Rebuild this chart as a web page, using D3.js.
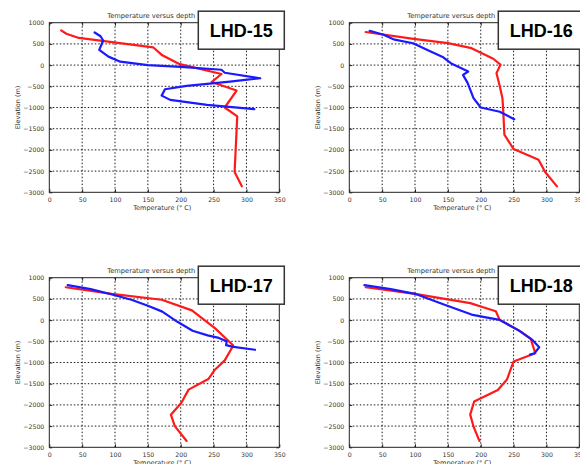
<!DOCTYPE html>
<html><head><meta charset="utf-8">
<script src="https://cdn.jsdelivr.net/npm/d3@7"></script>
<style>body{margin:0;background:#fff} svg{display:block}</style>
</head><body>
<svg id="chart" width="580" height="464"></svg>
<script>
const wells = ["LHD-15", "LHD-16", "LHD-17", "LHD-18"];
const xTicks = [0, 50, 100, 150, 200, 250, 300, 350];
const yTicks = [1000, 500, 0, -500, -1000, -1500, -2000, -2500, -3000];

// [temperature °C, elevation m]
const lhd15Red = [[18,820],[26,740],[45,640],[158,420],[172,230],[197,30],[262,-210],[247,-400],[285,-600],[267,-1000],[286,-1210],[282,-2520],[293,-2860]];
const lhd15Blue = [[69,770],[78,680],[82,580],[76,360],[90,200],[108,80],[150,0],[200,-40],[262,-110],[267,-180],[321,-310],[275,-390],[209,-490],[176,-570],[171,-720],[184,-820],[240,-940],[312,-1040]];
const lhd16Red = [[25,780],[95,625],[150,520],[186,400],[201,285],[219,150],[230,10],[224,-190],[229,-500],[233,-780],[234,-1000],[236,-1640],[250,-1980],[288,-2230],[298,-2520],[316,-2860]];
const lhd16Blue = [[31,810],[52,715],[69,600],[97,515],[123,325],[143,185],[156,30],[181,-150],[173,-230],[180,-420],[189,-780],[200,-1000],[229,-1100],[251,-1275]];
const lhd17Red = [[25,775],[95,620],[171,480],[217,230],[252,-190],[280,-600],[267,-950],[252,-1170],[242,-1390],[212,-1640],[201,-1950],[185,-2230],[191,-2500],[209,-2850]];
const lhd17Blue = [[28,825],[63,730],[94,610],[125,480],[150,340],[172,200],[195,-40],[218,-250],[241,-360],[258,-420],[270,-500],[269,-590],[280,-630],[313,-700]];
const lhd18Red = [[25,775],[100,620],[184,400],[200,320],[223,210],[229,0],[257,-230],[276,-440],[283,-780],[250,-975],[240,-1400],[226,-1650],[190,-1920],[184,-2230],[189,-2510],[198,-2850]];
const lhd18Blue = [[23,825],[63,730],[100,620],[145,360],[186,130],[210,60],[229,5],[260,-265],[278,-460],[289,-640],[282,-780],[275,-815]];

const redSeries = [lhd15Red, lhd16Red, lhd17Red, lhd18Red];
const blueSeries = [lhd15Blue, lhd16Blue, lhd17Blue, lhd18Blue];

const svg = d3.select("#chart");
const origins = [[49.3, 22.7], [349.3, 22.7], [49.3, 277.7], [349.3, 277.7]];
const W = 230, H = 169.6;
const font = "'DejaVu Sans', sans-serif";
const fmt = d => d < 0 ? "\u2212" + Math.abs(d) : String(d);

wells.forEach((name, i) => {
  const [ox, oy] = origins[i];
  const g = svg.append("g").attr("transform", `translate(${ox},${oy})`);
  const x = d3.scaleLinear().domain([0, 350]).range([0, W]);
  const y = d3.scaleLinear().domain([-3000, 1000]).range([H, 0]);

  // grid
  g.append("g").selectAll("line").data(xTicks.slice(1, -1)).join("line")
    .attr("x1", d => x(d)).attr("x2", d => x(d)).attr("y1", 0).attr("y2", H)
    .attr("stroke", "#000").attr("stroke-width", 0.9).attr("stroke-dasharray", "1.5,2");
  g.append("g").selectAll("line").data(yTicks.slice(1, -1)).join("line")
    .attr("y1", d => y(d)).attr("y2", d => y(d)).attr("x1", 0).attr("x2", W)
    .attr("stroke", "#000").attr("stroke-width", 0.9).attr("stroke-dasharray", "1.5,2");

  // axes
  const styleAxis = sel => {
    sel.selectAll(".domain").remove();
    sel.selectAll("line").attr("stroke", "#222");
    sel.selectAll("text").attr("font-family", font).attr("font-size", 6.2).attr("fill", "#333");
  };
  g.append("g").attr("transform", `translate(0,${H})`)
    .call(d3.axisBottom(x).tickValues(xTicks).tickSize(-3).tickPadding(5).tickFormat(fmt)).call(styleAxis);
  g.append("g")
    .call(d3.axisLeft(y).tickValues(yTicks).tickSize(-3).tickPadding(5).tickFormat(fmt)).call(styleAxis);
  g.append("g")
    .call(d3.axisTop(x).tickValues(xTicks).tickSize(-3).tickFormat("")).call(styleAxis);
  g.append("g").attr("transform", `translate(${W},0)`)
    .call(d3.axisRight(y).tickValues(yTicks).tickSize(-3).tickFormat("")).call(styleAxis);

  // frame
  g.append("rect").attr("width", W).attr("height", H)
    .attr("fill", "none").attr("stroke", "#222").attr("stroke-width", 1);

  // lines
  const line = d3.line().x(d => x(d[0])).y(d => y(d[1]));
  g.append("path").datum(redSeries[i]).attr("d", line)
    .attr("fill", "none").attr("stroke", "#ff1a1a").attr("stroke-width", 2.2)
    .attr("stroke-linejoin", "round").attr("stroke-linecap", "round");
  g.append("path").datum(blueSeries[i]).attr("d", line)
    .attr("fill", "none").attr("stroke", "#1a1aff").attr("stroke-width", 2.2)
    .attr("stroke-linejoin", "round").attr("stroke-linecap", "round");

  // title and labels
  g.append("text").attr("x", 102).attr("y", -5).attr("text-anchor", "middle")
    .attr("font-family", font).attr("font-size", 6.7).attr("fill", "#333")
    .text("Temperature versus depth");
  g.append("text").attr("x", W / 2 - 2).attr("y", H + 18).attr("text-anchor", "middle")
    .attr("font-family", font).attr("font-size", 6.5).attr("fill", "#333")
    .text("Temperature (\u00B0 C)");
  g.append("text").attr("transform", `translate(${-32},${H / 2}) rotate(-90)`)
    .attr("text-anchor", "middle").attr("dy", "0.35em")
    .attr("font-family", font).attr("font-size", 6.5).attr("fill", "#333")
    .text("Elevation (m)");

  // name box
  const bx = 149, by = -11.5;
  g.append("rect").attr("x", bx).attr("y", by).attr("width", 86).attr("height", 38)
    .attr("fill", "#fff").attr("stroke", "#333").attr("stroke-width", 1.5);
  g.append("text").attr("x", bx + 43).attr("y", by + 26).attr("text-anchor", "middle")
    .attr("font-family", "'Liberation Sans', Arial, sans-serif").attr("font-weight", "bold")
    .attr("font-size", 18).attr("fill", "#000").text(name);
});
</script>
</body></html>
